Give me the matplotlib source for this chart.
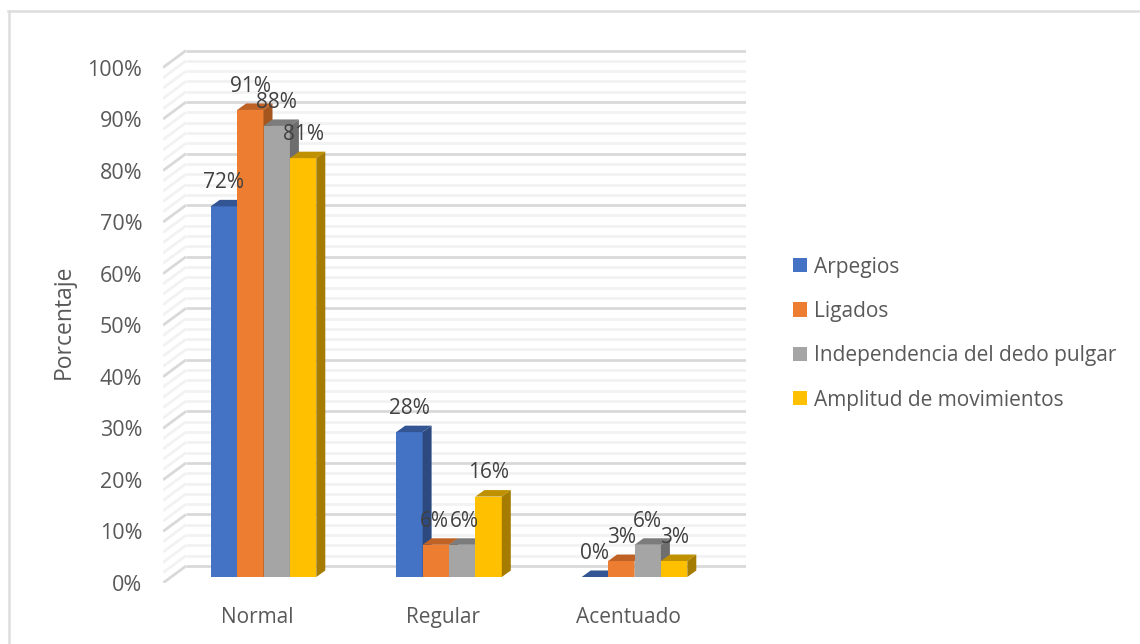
import matplotlib
matplotlib.use('Agg')
import matplotlib.pyplot as plt
from matplotlib.lines import Line2D
from matplotlib.patches import Polygon

categories = ['Normal', 'Regular', 'Acentuado']
series_names = ['Arpegios', 'Ligados', 'Independencia del dedo pulgar', 'Amplitud de movimientos']
arpegios = [71.9, 28.1, 0]
ligados = [90.6, 6.25, 3.1]
independencia = [87.5, 6.25, 6.25]
amplitud = [81.25, 15.6, 3.1]
y_ticks = list(range(0, 101, 10))
y_minor = list(range(0, 101, 2))

all_series = [arpegios, ligados, independencia, amplitud]
front_colors = ['#4472C4', '#ED7D31', '#A5A5A5', '#FFC000']
top_colors = ['#335593', '#BE6226', '#7C7C7C', '#BF9000']
side_colors = ['#2C4A80', '#A5561F', '#6E6E6E', '#A67C00']

W, H = 1140, 644
plt.rcParams['font.family'] = ['Open Sans', 'DejaVu Sans']
text_color = '#595959'

fig = plt.figure(figsize=(W / 100, H / 100), dpi=100)
# chart frame only shows on the top and left, the rest is cropped off
fig.add_artist(Line2D([8 / W, 1], [1 - 11 / H, 1 - 11 / H], color='#DDDDDD', lw=1.8))
fig.add_artist(Line2D([9 / W, 9 / W], [0, 1 - 11 / H], color='#DDDDDD', lw=1.8))

# axes box is the front floor corner up to the back wall top, in pixels
px_left, px_right, px_bottom, px_top = 163, 746, 583, 49
ax = fig.add_axes([px_left / W, 1 - px_bottom / H, (px_right - px_left) / W, (px_bottom - px_top) / H])
px_per_cat = 185.5
px_per_pct = 5.155
ax.set_xlim((px_left - 257) / px_per_cat, (px_right - 257) / px_per_cat)
ax.set_ylim(0, (px_bottom - px_top) / px_per_pct)
for s in ax.spines.values():
    s.set_visible(False)

# sizes of the fake 3d, in axis units
wall_dx = 23 / px_per_cat
wall_dy = 17 / px_per_pct
bar_dx = 9 / px_per_cat
bar_dy = 6.5 / px_per_pct
bar_lift = 6 / px_per_pct
bar_w = 26.4 / px_per_cat
bar_shift = 6.5 / px_per_cat
x_left = ax.get_xlim()[0]
x_right = ax.get_xlim()[1]

# walls
for v in y_minor:
    major = v % 10 == 0
    c = '#D9D9D9' if major else '#F2F2F2'
    z = 2 if major else 1
    ax.plot([x_left, x_left + wall_dx], [v, v + wall_dy], color=c, lw=2, zorder=z, solid_capstyle='butt')
    ax.plot([x_left + wall_dx, x_right], [v + wall_dy, v + wall_dy], color=c, lw=2, zorder=z, solid_capstyle='butt')

# bars
for i, vals in enumerate(all_series):
    xs = [c + bar_shift + (i - 1.5) * bar_w for c in range(len(categories))]
    ax.bar(xs, vals, bar_w, bottom=bar_lift, color=front_colors[i], zorder=5 + i, label=series_names[i])
    for j, (x, v) in enumerate(zip(xs, vals)):
        l = x - bar_w / 2
        r = x + bar_w / 2
        top = v + bar_lift
        ax.add_patch(Polygon([(l, top), (r, top), (r + bar_dx, top + bar_dy), (l + bar_dx, top + bar_dy)],
                             facecolor=top_colors[i], edgecolor='none', zorder=5 + i))
        ax.add_patch(Polygon([(r, bar_lift), (r + bar_dx, bar_lift + bar_dy), (r + bar_dx, top + bar_dy), (r, top)],
                             facecolor=side_colors[i], edgecolor='none', zorder=5 + i))
        # the two 6% labels of Regular sit side by side, push them apart a little
        nudge = 0
        if j == 1 and i == 1:
            nudge = -1.3
        if j == 1 and i == 2:
            nudge = 1.3
        ax.annotate('%.0f%%' % v, (x, top), xytext=(nudge, 17), textcoords='offset points', ha='center', va='center',
                    fontsize=15, color='#404040', zorder=20)

ax.set_yticks(y_ticks)
ax.set_yticklabels(['%d%%' % v for v in y_ticks])
ax.set_xticks(range(len(categories)))
ax.set_xticklabels(categories)
ax.tick_params(axis='y', length=0, pad=15, labelsize=15.5, labelcolor=text_color)
ax.tick_params(axis='x', length=0, pad=17, labelsize=15, labelcolor=text_color)
ax.set_ylabel('Porcentaje', fontsize=16.5, color=text_color)
ax.yaxis.set_label_coords((76 - px_left) / (px_right - px_left), (px_bottom - 322) / (px_bottom - px_top))

leg = ax.legend(loc='upper left', bbox_to_anchor=(793 / W, 1 - 256.5 / H), bbox_transform=fig.transFigure,
                frameon=False, fontsize=15, handlelength=0.68, handleheight=0.68, handletextpad=0.31,
                labelspacing=1.12, borderpad=0, borderaxespad=0, labelcolor=text_color)

fig.savefig('out.png', dpi=100)
